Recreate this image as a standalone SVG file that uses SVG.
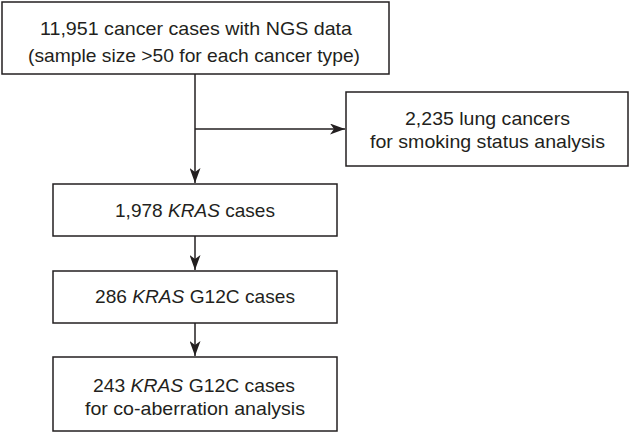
<svg xmlns="http://www.w3.org/2000/svg" width="630" height="433" viewBox="0 0 630 433">
<style>
.box{fill:#fff;stroke:#231f20;stroke-width:1.5}
.t{font-family:"Liberation Sans",Arial,sans-serif;font-size:19px;fill:#231f20;text-anchor:middle}
.c{stroke:#231f20;stroke-width:1.5;fill:none}
</style>
<defs>
<marker id="ah" markerWidth="15" markerHeight="11" refX="15" refY="5.5" orient="auto" markerUnits="userSpaceOnUse">
<path d="M0,0 L15,5.5 L0,11 L4,5.5 Z" fill="#231f20"/>
</marker>
</defs>
<rect width="630" height="433" fill="#fff"/>
<g id="n1"><rect class="box" x="2" y="2" width="387" height="72"/>
<text class="t" x="196" y="35" textLength="312" lengthAdjust="spacingAndGlyphs">11,951 cancer cases with NGS data</text>
<text class="t" x="194" y="62" textLength="332" lengthAdjust="spacingAndGlyphs">(sample size &gt;50 for each cancer type)</text></g>
<g id="n2"><rect class="box" x="346" y="92" width="282" height="74"/>
<text class="t" x="487.5" y="125" textLength="165" lengthAdjust="spacingAndGlyphs">2,235 lung cancers</text>
<text class="t" x="487.5" y="148" textLength="235" lengthAdjust="spacingAndGlyphs">for smoking status analysis</text></g>
<g id="n3"><rect class="box" x="53" y="184" width="284" height="52"/>
<text class="t" x="195" y="217" textLength="160" lengthAdjust="spacingAndGlyphs">1,978 <tspan font-style="italic">KRAS</tspan> cases</text></g>
<g id="n4"><rect class="box" x="53" y="271" width="284" height="52"/>
<text class="t" x="195" y="303" textLength="200" lengthAdjust="spacingAndGlyphs">286 <tspan font-style="italic">KRAS</tspan> G12C cases</text></g>
<g id="n5"><rect class="box" x="53" y="357" width="284" height="74"/>
<text class="t" x="194" y="392" textLength="202" lengthAdjust="spacingAndGlyphs">243 <tspan font-style="italic">KRAS</tspan> G12C cases</text>
<text class="t" x="195" y="415" textLength="220" lengthAdjust="spacingAndGlyphs">for co-aberration analysis</text></g>
<g id="connectors">
<path class="c" d="M195,74 V183" marker-end="url(#ah)"/>
<path class="c" d="M195,129 H345" marker-end="url(#ah)"/>
<path class="c" d="M195,236 V270" marker-end="url(#ah)"/>
<path class="c" d="M195,323 V356" marker-end="url(#ah)"/>
</g>
</svg>
